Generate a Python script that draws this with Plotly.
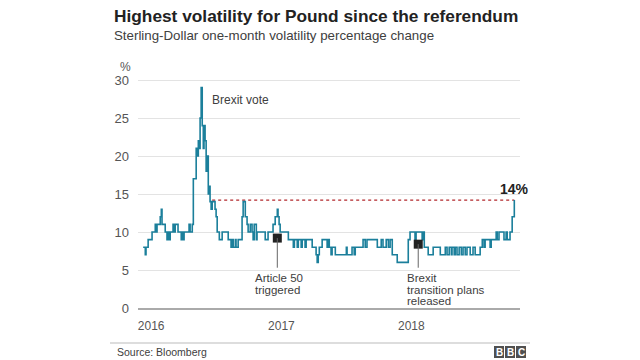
import plotly.graph_objects as go

# Step-change points of Sterling-Dollar one-month volatility (%)
dates = [
    "2016-01-15", "2016-01-21", "2016-01-23", "2016-01-29", "2016-02-09", "2016-02-18", "2016-02-21", "2016-02-23",
    "2016-03-03", "2016-03-06", "2016-03-08", "2016-03-17", "2016-03-22", "2016-03-25", "2016-03-28", "2016-03-31",
    "2016-04-08", "2016-04-11", "2016-04-14", "2016-04-22", "2016-05-01", "2016-05-04", "2016-05-06", "2016-05-09",
    "2016-05-23", "2016-05-26", "2016-06-01", "2016-06-04", "2016-06-12", "2016-06-15", "2016-06-18", "2016-06-20",
    "2016-06-23", "2016-06-26", "2016-06-29", "2016-07-02", "2016-07-04", "2016-07-07", "2016-07-10", "2016-07-13",
    "2016-07-16", "2016-07-18", "2016-07-21", "2016-07-24", "2016-07-27", "2016-08-04", "2016-08-07", "2016-08-10",
    "2016-08-16", "2016-08-24", "2016-09-10", "2016-09-18", "2016-09-21", "2016-09-24", "2016-09-30", "2016-10-02",
    "2016-10-08", "2016-10-19", "2016-10-22", "2016-10-28", "2016-11-02", "2016-11-05", "2016-11-11", "2016-11-16",
    "2016-11-19", "2016-11-22", "2016-11-28", "2016-11-30", "2016-12-23", "2016-12-31", "2017-01-14", "2017-01-20",
    "2017-01-26", "2017-01-28", "2017-01-31", "2017-02-03", "2017-02-26", "2017-03-12", "2017-03-15", "2017-03-23",
    "2017-03-26", "2017-04-03", "2017-04-06", "2017-04-14", "2017-04-17", "2017-05-04", "2017-05-15", "2017-05-18",
    "2017-05-21", "2017-05-24", "2017-06-01", "2017-06-15", "2017-06-18", "2017-06-21", "2017-06-26", "2017-06-29",
    "2017-07-08", "2017-08-08", "2017-08-10", "2017-08-24", "2017-08-30", "2017-09-02", "2017-09-24", "2017-09-30",
    "2017-10-05", "2017-11-03", "2017-11-14", "2017-11-19", "2017-11-28", "2017-12-04", "2017-12-09", "2017-12-15",
    "2017-12-29", "2018-01-29", "2018-02-03", "2018-02-17", "2018-02-20", "2018-03-09", "2018-03-12", "2018-03-15",
    "2018-03-26", "2018-04-09", "2018-04-29", "2018-05-13", "2018-05-18", "2018-05-24", "2018-05-30", "2018-06-01",
    "2018-06-07", "2018-06-10", "2018-06-15", "2018-06-21", "2018-06-27", "2018-07-02", "2018-07-08", "2018-07-13",
    "2018-07-22", "2018-07-30", "2018-08-05", "2018-08-19", "2018-08-25", "2018-08-30", "2018-09-02", "2018-09-16",
    "2018-09-19", "2018-10-03", "2018-10-06", "2018-10-11", "2018-10-25", "2018-10-31", "2018-11-03", "2018-11-11",
    "2018-11-17", "2018-11-23",
]
volatility = [
    8, 7, 8, 9, 10, 11, 10, 11,
    12, 13, 11, 10, 9, 10, 9, 10,
    11, 10, 11, 10, 9, 10, 9, 10,
    11, 10, 11, 17, 21, 20, 22, 21,
    25, 29, 24, 21, 24, 22, 18, 20,
    15, 16, 14, 13, 14, 13, 12, 10,
    9, 10, 9, 8, 9, 8, 9, 8,
    9, 12, 14, 12, 11, 10, 11, 10,
    9, 11, 9, 10, 9, 10, 11, 12,
    13, 12, 11, 10, 9, 8, 9, 8,
    9, 8, 9, 8, 9, 8, 7, 6,
    7, 8, 9, 8, 9, 8, 7, 8,
    7, 8, 7, 8, 7, 8, 9, 8,
    9, 8, 9, 8, 9, 8, 9, 7,
    6, 9, 10, 9, 10, 9, 10, 8,
    7, 8, 7, 8, 7, 8, 7, 8,
    7, 8, 7, 8, 7, 8, 7, 8,
    7, 8, 7, 8, 9, 8, 9, 8,
    9, 10, 9, 10, 9, 10, 9, 10,
    12, 14.2,
]

# Reference level: first return to the current level after the referendum
ref_start = "2016-07-27"
latest_label = "14%"

# Event markers
event_dates = ["2017-01-26", "2018-02-26"]
event_values = [9.2, 8.4]
event_labels = [["Article 50", "triggered"], ["Brexit", "transition plans", "released"]]
event_label_shift = [-24, -13]

year_ticks = ["2016-01-01", "2017-01-01", "2018-01-01"]
year_labels = ["2016", "2017", "2018"]
y_ticks = [0, 5, 10, 15, 20, 25, 30]

FONT = "Liberation Sans, Arial, Helvetica, sans-serif"
TXT = "#404040"
LINE = "#1b7f9b"

fig = go.Figure()

fig.add_trace(go.Scatter(
    x=[ref_start, dates[-1]], y=[volatility[-1], volatility[-1]],
    mode="lines", line=dict(color="#b3282d", width=1.2, dash="dot"),
    hoverinfo="skip", showlegend=False,
))
fig.add_trace(go.Scatter(
    x=dates, y=volatility, mode="lines", line_shape="hv",
    line=dict(color=LINE, width=1.6), showlegend=False,
))

# page body has an 8px margin; layout is specified in screen pixels
OFF = 8
W, H = 640 - OFF, 360 - OFF
PL, PR, PT, PB = 138, 520, 75, 308   # plot box in screen pixels
L, R, T, B = PL - OFF, W - (PR - OFF), PT - OFF, H - (PB - OFF)
pw, ph = PR - PL, PB - PT

def px(x):
    return (x - PL) / pw

def py(y):
    return (PB - y) / ph

label_top_value = 5.0
for d, v in zip(event_dates, event_values):
    fig.add_shape(type="line", xref="x", yref="y", x0=d, x1=d, y0=v, y1=label_top_value + 0.3,
                  line=dict(color="#666666", width=1))
fig.add_trace(go.Scatter(
    x=event_dates, y=event_values, mode="markers",
    marker=dict(symbol="square", size=9, color="#222222"),
    showlegend=False, hoverinfo="skip",
))

annotations = []
for d, lines, sh in zip(event_dates, event_labels, event_label_shift):
    for i, t in enumerate(lines):
        annotations.append(dict(
            x=d, y=label_top_value, xref="x", yref="y", text=t, showarrow=False,
            xanchor="left", yanchor="top", xshift=sh, yshift=-i * 11.5,
            font=dict(family=FONT, size=11.5, color=TXT),
        ))

annotations.append(dict(x="2016-07-20", y=27.4, xref="x", yref="y", text="Brexit vote",
                        showarrow=False, xanchor="left", yanchor="middle",
                        font=dict(family=FONT, size=12, color=TXT)))
annotations.append(dict(x=dates[-1], y=volatility[-1], xref="x", yref="y", text=f"<b>{latest_label}</b>",
                        showarrow=False, xanchor="center", yanchor="bottom", yshift=1,
                        font=dict(family=FONT, size=14, color="#222222")))

annotations.append(dict(x=px(112), y=py(16), xref="paper", yref="paper",
                        text="<b>Highest volatility for Pound since the referendum</b>",
                        showarrow=False, xanchor="left", yanchor="middle",
                        font=dict(family=FONT, size=17.3, color="#222222")))
annotations.append(dict(x=px(112), y=py(36), xref="paper", yref="paper",
                        text="Sterling-Dollar one-month volatility percentage change",
                        showarrow=False, xanchor="left", yanchor="middle",
                        font=dict(family=FONT, size=13.3, color=TXT)))
annotations.append(dict(x=px(133), y=py(67), xref="paper", yref="paper", text="%",
                        showarrow=False, xanchor="right", yanchor="middle",
                        font=dict(family=FONT, size=12, color="#555555")))
annotations.append(dict(x=px(115), y=py(352), xref="paper", yref="paper", text="Source: Bloomberg",
                        showarrow=False, xanchor="left", yanchor="middle",
                        font=dict(family=FONT, size=10.5, color=TXT)))

shapes = [dict(type="line", xref="paper", yref="paper", x0=px(110), x1=px(530), y0=py(343), y1=py(343),
               line=dict(color="#bbbbbb", width=1))]
for i, letter in enumerate(["B", "B", "C"]):
    x0 = 494 + i * 11
    shapes.append(dict(type="rect", xref="paper", yref="paper", x0=px(x0), x1=px(x0 + 10),
                       y0=py(358), y1=py(346), fillcolor="#505050", line=dict(width=0)))
    annotations.append(dict(x=px(x0 + 5), y=py(352), xref="paper", yref="paper", text=f"<b>{letter}</b>",
                            showarrow=False, xanchor="center", yanchor="middle",
                            font=dict(family=FONT, size=10, color="white")))

for s in shapes:
    fig.add_shape(**s)

fig.update_layout(
    width=W, height=H, margin=dict(l=L, r=R, t=T, b=B),
    paper_bgcolor="white", plot_bgcolor="white",
    annotations=annotations,
    xaxis=dict(type="date", range=["2015-12-31T12:00", "2018-12-09"], tickvals=year_ticks, ticktext=year_labels,
               showgrid=False, showline=True, linecolor="#aaaaaa", linewidth=2,
               ticks="", ticklabelshift=13, ticklabelstandoff=6,
               tickfont=dict(family=FONT, size=12, color="#555555")),
    yaxis=dict(range=[0, ph / 7.6], tickvals=y_ticks, showgrid=True, gridcolor="#e3e3e3", gridwidth=1,
               zeroline=False, ticks="", ticklabelstandoff=8,
               tickfont=dict(family=FONT, size=13, color="#555555")),
)

fig.write_html("out.html")
